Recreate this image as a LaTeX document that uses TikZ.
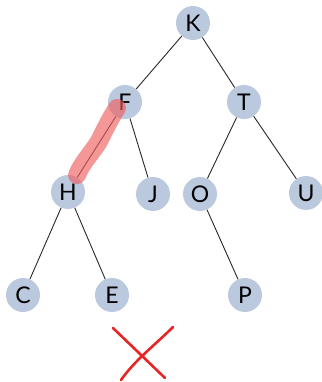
\documentclass[tikz,border=0pt]{standalone}
\usepackage{fontspec}
\setmainfont{Lato}
\definecolor{nodefill}{RGB}{187,201,222}
\definecolor{edgecol}{RGB}{40,40,40}
\definecolor{hilite}{RGB}{240,95,95}
\definecolor{crossred}{RGB}{232,36,36}
\begin{document}
\begin{tikzpicture}[x=1pt,y=-1pt,
  tnode/.style={circle,fill=nodefill,minimum size=34pt,inner sep=0pt,font=\fontsize{23}{23}\selectfont},
  tedge/.style={draw=edgecol,line width=0.9pt}]
\useasboundingbox (0,0) rectangle (321,382);
\node[tnode] (K) at (193,23) {K};
\node[tnode] (F) at (125,102) {F};
\node[tnode] (T) at (244,102) {T};
\node[tnode] (H) at (68,192) {H};
\node[tnode] (J) at (153,194) {J};
\node[tnode] (O) at (200,194) {O};
\node[tnode] (U) at (306,193) {U};
\node[tnode] (C) at (23,295) {C};
\node[tnode] (E) at (112,295) {E};
\node[tnode] (P) at (245,295) {P};
\path[tedge] (K) -- (F);
\path[tedge] (K) -- (T);
\path[tedge] (F) -- (H);
\path[tedge] (F) -- (J);
\path[tedge] (T) -- (O);
\path[tedge] (T) -- (U);
\path[tedge] (H) -- (C);
\path[tedge] (H) -- (E);
\path[tedge] (O) -- (P);
\draw[hilite,opacity=0.65,line width=18pt,line cap=round,line join=round]
  (117,108) .. controls (108,122) and (104,132) .. (98,143) .. controls (90,155) and (82,163) .. (77,175);
\draw[crossred,line width=2.6pt,line cap=round] (113,328) -- (165,378);
\draw[crossred,line width=2.6pt,line cap=round] (173,327) .. controls (155,345) and (135,360) .. (121,380);
\end{tikzpicture}
\end{document}
